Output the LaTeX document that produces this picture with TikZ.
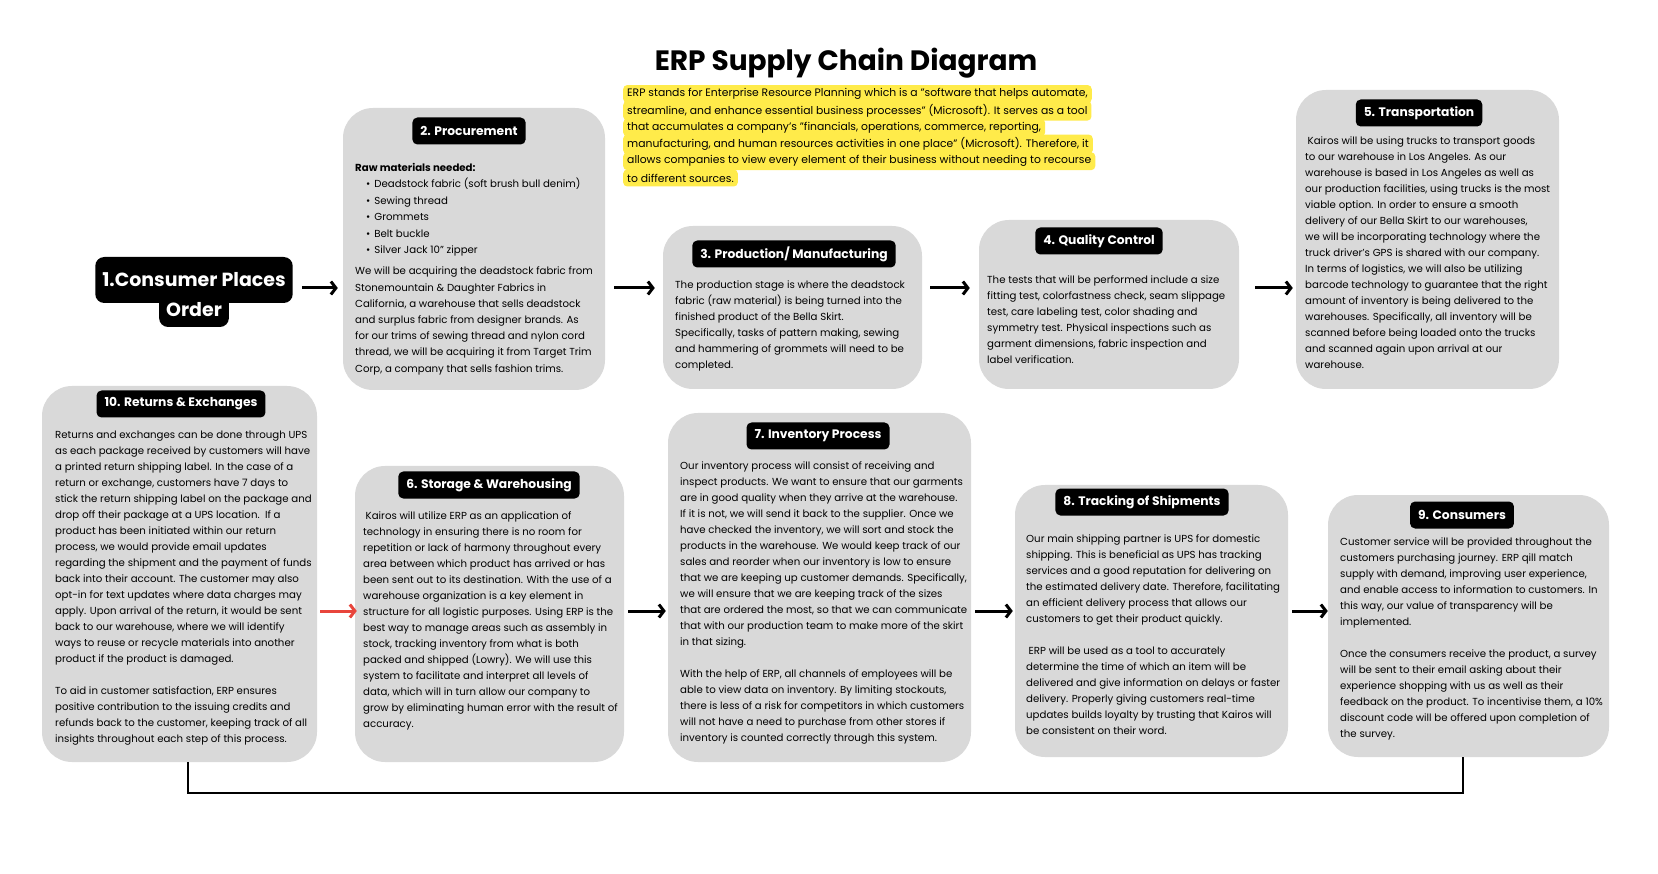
\documentclass[tikz,border=0pt]{standalone}
\usepackage{fontspec}
\setmainfont{Poppins}
\usetikzlibrary{arrows.meta}

\definecolor{boxgray}{HTML}{D9D9D9}
\definecolor{hlyellow}{HTML}{FFEB4A}
\definecolor{flowred}{HTML}{E8453C}

\tikzset{
  stagebox/.style={fill=boxgray, rounded corners=30pt, inner sep=0pt},
  stagehead/.style={fill=black, text=white, rounded corners=5pt,
    font=\fontsize{12.3}{14}\selectfont\bfseries, minimum height=27pt, inner xsep=8pt},
  stagetext/.style={anchor=north west, inner sep=0pt, align=left,
    font=\fontsize{10.2}{16}\selectfont},
  hlline/.style={anchor=west, fill=hlyellow, rounded corners=4pt, inner xsep=4pt,
    minimum height=17pt, font=\fontsize{10.8}{16}\selectfont},
  orderbox/.style={fill=black, text=white, rounded corners=9pt, inner xsep=7pt,
    font=\fontsize{19}{22}\selectfont\bfseries},
  flowarrow/.style={line width=3pt, -{Straight Barb[length=5pt,width=13pt]}},
  loopline/.style={line width=2pt},
}

\begin{document}
\begin{tikzpicture}[x=1pt, y=-1pt]
  \fill[white] (0,0) rectangle (1658,874);
  \useasboundingbox (0,0) rectangle (1658,874);

  % title and note
  \node[font=\fontsize{28}{32}\selectfont\bfseries] (title) at (846,63) {ERP Supply Chain Diagram};
  \node[hlline] (hl1) at (623,94) {ERP stands for Enterprise Resource Planning which is a "software that helps automate,};
  \node[hlline] (hl2) at (623,110.8) {streamline, and enhance essential business processes" (Microsoft). It serves as a tool};
  \node[hlline] (hl3) at (623,127.6) {that accumulates a company’s "financials, operations, commerce, reporting,};
  \node[hlline] (hl4) at (623,144.4) {manufacturing, and human resources activities in one place" (Microsoft). Therefore, it};
  \node[hlline] (hl5) at (623,161.2) {allows companies to view every element of their business without needing to recourse};
  \node[hlline] (hl6) at (623,178) {to different sources.};

  % 1. order
  \node[orderbox, minimum height=46pt] (order1) at (194,280) {1.Consumer Places};
  \node[orderbox, minimum height=34pt] (order2) at (194,310) {Order};

  % top row
  \node[stagebox, minimum width=262pt, minimum height=282pt] (proc) at (474,249) {};
  \node[stagehead] (procH) at (469,131) {2. Procurement};
  \node[stagetext] (procT) at (355,163) {\textbf{Raw materials needed:}\\[0.5pt]
    \hspace*{11pt}•\hspace{4pt}Deadstock fabric (soft brush bull denim)\\[0.5pt]
    \hspace*{11pt}•\hspace{4pt}Sewing thread\\[0.5pt]
    \hspace*{11pt}•\hspace{4pt}Grommets\\[0.5pt]
    \hspace*{11pt}•\hspace{4pt}Belt buckle\\[0.5pt]
    \hspace*{11pt}•\hspace{4pt}Silver Jack 10” zipper\\[5pt]
    We will be acquiring the deadstock fabric from\\[0.2pt]
    Stonemountain \& Daughter Fabrics in\\[0.2pt]
    California, a warehouse that sells deadstock\\[0.2pt]
    and surplus fabric from designer brands. As\\[0.2pt]
    for our trims of sewing thread and nylon cord\\[0.2pt]
    thread, we will be acquiring it from Target Trim\\[0.2pt]
    Corp, a company that sells fashion trims.};

  \node[stagebox, minimum width=259pt, minimum height=163pt] (prodn) at (792.5,307.5) {};
  \node[stagehead] (prodnH) at (794,254) {3. Production/ Manufacturing};
  \node[stagetext] (prodnT) at (675,281) {The production stage is where the deadstock\\
    fabric (raw material) is being turned into the\\
    finished product of the Bella Skirt.\\
    Specifically, tasks of pattern making, sewing\\
    and hammering of grommets will need to be\\
    completed.};

  \node[stagebox, minimum width=260pt, minimum height=169pt] (qual) at (1109,304.5) {};
  \node[stagehead] (qualH) at (1099,241) {4. Quality Control};
  \node[stagetext] (qualT) at (987,276) {The tests that will be performed include a size\\
    fitting test, colorfastness check, seam slippage\\
    test, care labeling test, color shading and\\
    symmetry test. Physical inspections such as\\
    garment dimensions, fabric inspection and\\
    label verification.};

  \node[stagebox, minimum width=263pt, minimum height=299pt] (trans) at (1427.5,239.5) {};
  \node[stagehead] (transH) at (1419,113) {5. Transportation};
  \node[stagetext] (transT) at (1305,137) {\hspace*{2.5pt}Kairos will be using trucks to transport goods\\
    to our warehouse in Los Angeles. As our\\
    warehouse is based in Los Angeles as well as\\
    our production facilities, using trucks is the most\\
    viable option. In order to ensure a smooth\\
    delivery of our Bella Skirt to our warehouses,\\
    we will be incorporating technology where the\\
    truck driver’s GPS is shared with our company.\\
    In terms of logistics, we will also be utilizing\\
    barcode technology to guarantee that the right\\
    amount of inventory is being delivered to the\\
    warehouses. Specifically, all inventory will be\\
    scanned before being loaded onto the trucks\\
    and scanned again upon arrival at our\\
    warehouse.};

  % bottom row
  \node[stagebox, minimum width=275pt, minimum height=376pt] (ret) at (179.5,574) {};
  \node[stagehead] (retH) at (181,404) {10. Returns \& Exchanges};
  \node[stagetext] (retT) at (55,431) {Returns and exchanges can be done through UPS\\
    as each package received by customers will have\\
    a printed return shipping label. In the case of a\\
    return or exchange, customers have 7 days to\\
    stick the return shipping label on the package and\\
    drop off their package at a UPS location.\ \ If a\\
    product has been initiated within our return\\
    process, we would provide email updates\\
    regarding the shipment and the payment of funds\\
    back into their account. The customer may also\\
    opt-in for text updates where data charges may\\
    apply. Upon arrival of the return, it would be sent\\
    back to our warehouse, where we will identify\\
    ways to reuse or recycle materials into another\\
    product if the product is damaged.\\[16pt]
    To aid in customer satisfaction, ERP ensures\\
    positive contribution to the issuing credits and\\
    refunds back to the customer, keeping track of all\\
    insights throughout each step of this process.};

  \node[stagebox, minimum width=269pt, minimum height=296pt] (stor) at (489.5,614) {};
  \node[stagehead] (storH) at (489,485) {6. Storage \& Warehousing};
  \node[stagetext] (storT) at (363,512) {\hspace*{2.5pt}Kairos will utilize ERP as an application of\\
    technology in ensuring there is no room for\\
    repetition or lack of harmony throughout every\\
    area between which product has arrived or has\\
    been sent out to its destination. With the use of a\\
    warehouse organization is a key element in\\
    structure for all logistic purposes. Using ERP is the\\
    best way to manage areas such as assembly in\\
    stock, tracking inventory from what is both\\
    packed and shipped (Lowry). We will use this\\
    system to facilitate and interpret all levels of\\
    data, which will in turn allow our company to\\
    grow by eliminating human error with the result of\\
    accuracy.};

  \node[stagebox, minimum width=303pt, minimum height=349pt] (inv) at (819.5,587.5) {};
  \node[stagehead] (invH) at (818,436) {7. Inventory Process};
  \node[stagetext] (invT) at (680,462) {Our inventory process will consist of receiving and\\
    inspect products. We want to ensure that our garments\\
    are in good quality when they arrive at the warehouse.\\
    If it is not, we will send it back to the supplier. Once we\\
    have checked the inventory, we will sort and stock the\\
    products in the warehouse. We would keep track of our\\
    sales and reorder when our inventory is low to ensure\\
    that we are keeping up customer demands. Specifically,\\
    we will ensure that we are keeping track of the sizes\\
    that are ordered the most, so that we can communicate\\
    that with our production team to make more of the skirt\\
    in that sizing.\\[16pt]
    With the help of ERP, all channels of employees will be\\
    able to view data on inventory. By limiting stockouts,\\
    there is less of a risk for competitors in which customers\\
    will not have a need to purchase from other stores if\\
    inventory is counted correctly through this system.};

  \node[stagebox, minimum width=273pt, minimum height=272pt] (track) at (1151.5,621) {};
  \node[stagehead] (trackH) at (1142,502) {8. Tracking of Shipments};
  \node[stagetext] (trackT) at (1026,535) {Our main shipping partner is UPS for domestic\\
    shipping. This is beneficial as UPS has tracking\\
    services and a good reputation for delivering on\\
    the estimated delivery date. Therefore, facilitating\\
    an efficient delivery process that allows our\\
    customers to get their product quickly.\\[16pt]
    \hspace*{2.5pt}ERP will be used as a tool to accurately\\
    determine the time of which an item will be\\
    delivered and give information on delays or faster\\
    delivery. Properly giving customers real-time\\
    updates builds loyalty by trusting that Kairos will\\
    be consistent on their word.};

  \node[stagebox, minimum width=281pt, minimum height=262pt] (cons) at (1468.5,626) {};
  \node[stagehead] (consH) at (1462,515) {9. Consumers};
  \node[stagetext] (consT) at (1340,538) {Customer service will be provided throughout the\\
    customers purchasing journey. ERP qill match\\
    supply with demand, improving user experience,\\
    and enable access to information to customers. In\\
    this way, our value of transparency will be\\
    implemented.\\[16pt]
    Once the consumers receive the product, a survey\\
    will be sent to their email asking about their\\
    experience shopping with us as well as their\\
    feedback on the product. To incentivise them, a 10\%\\
    discount code will be offered upon completion of\\
    the survey.};

  % arrows
  \coordinate (rowA) at (0,288);
  \coordinate (rowB) at (0,611);
  \draw[flowarrow, shorten <=9pt, shorten >=5pt] (order1.east |- rowA) -- (proc.west |- rowA);
  \draw[flowarrow, shorten <=9pt, shorten >=8pt] (proc.east |- rowA) -- (prodn.west |- rowA);
  \draw[flowarrow, shorten <=8pt, shorten >=9pt] (prodn.east |- rowA) -- (qual.west |- rowA);
  \draw[flowarrow, shorten <=16pt, shorten >=3pt] (qual.east |- rowA) -- (trans.west |- rowA);
  \draw[flowarrow, flowred, shorten <=3pt, shorten >=-2pt] (ret.east |- rowB) -- (stor.west |- rowB);
  \draw[flowarrow, shorten <=4pt, shorten >=2pt] (stor.east |- rowB) -- (inv.west |- rowB);
  \draw[flowarrow, shorten <=4pt, shorten >=2pt] (inv.east |- rowB) -- (track.west |- rowB);
  \draw[flowarrow, shorten <=4pt, shorten >=0pt] (track.east |- rowB) -- (cons.west |- rowB);
  \draw[loopline] ([xshift=8.5pt]ret.south) -- ++(0,31) -| ([xshift=-5.5pt]cons.south);
\end{tikzpicture}
\end{document}
